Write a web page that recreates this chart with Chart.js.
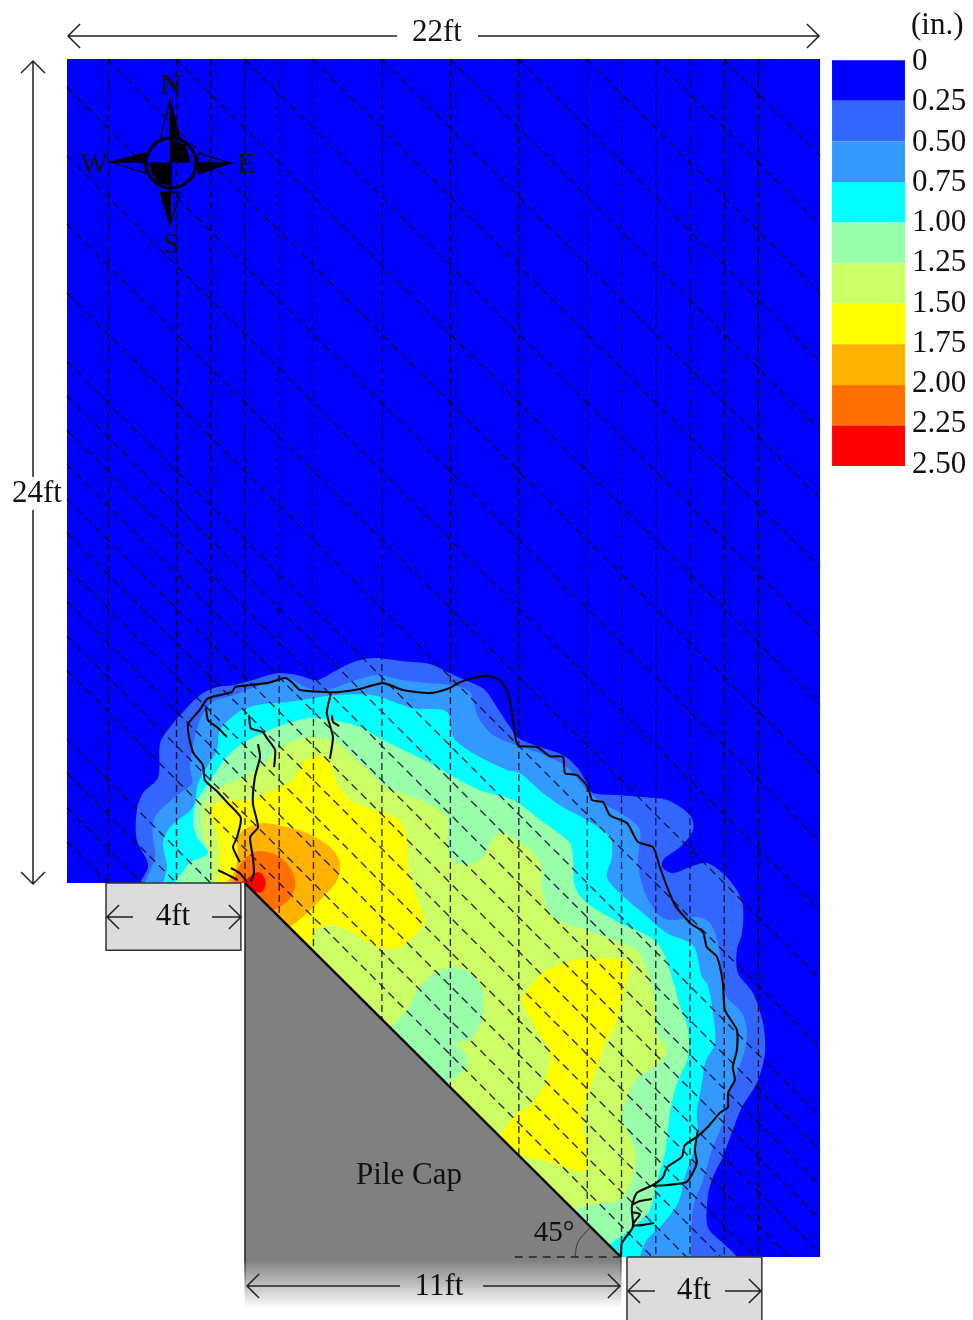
<!DOCTYPE html>
<html>
<head>
<meta charset="utf-8">
<title>Displacement contours</title>
<script src="https://cdn.jsdelivr.net/npm/chart.js@4/dist/chart.umd.min.js"></script>
<style>
  html, body { margin: 0; padding: 0; background: #fff; }
  canvas { display: block; filter: blur(0.45px); }
</style>
</head>
<body>
<canvas id="graf" width="973" height="1320"></canvas>
<script>
// all positions in feet, x from west edge of slab, y from south edge
var levelLabels = ["0", "0.25", "0.50", "0.75", "1.00", "1.25", "1.50", "1.75", "2.00", "2.25", "2.50"];
var levelColors = ["#0000ff", "#3366ff", "#3399ff", "#00ffff", "#99ffaa", "#ccff66", "#ffff00", "#ffb300", "#ff7000", "#ff0000"];

var slab = [[0, 0], [22, 0], [22, 34.93], [0, 34.93]];

// contour outlines
var band025 = [[2.13,10.9],[2.37,11.43],[2.04,12.16],[2.04,13.03],[2.22,13.53],[2.66,13.99],[2.72,14.98],[3.01,15.45],[3.39,15.89],[3.88,16.38],[4.38,16.62],[4.85,16.67],[5.43,16.82],[6.13,17.02],[6.72,16.97],[7.3,16.82],[7.77,17.05],[8.35,17.34],[8.94,17.46],[9.81,17.37],[10.6,17.29],[11.19,17.02],[11.77,16.76],[12.21,16.53],[12.56,16.03],[12.94,15.45],[13.17,15.13],[13.82,14.87],[14.49,14.63],[14.9,14.28],[15.19,13.82],[15.36,13.53],[16.07,13.47],[16.82,13.41],[17.53,13.32],[18.2,12.88],[18.29,12.45],[17.91,11.95],[17.41,11.57],[17.41,11.34],[17.7,11.19],[18.2,11.37],[18.69,11.49],[19.16,11.19],[19.57,10.7],[19.75,10.2],[19.72,9.44],[19.57,8.95],[19.6,8.28],[20.04,7.7],[20.33,6.82],[20.39,5.95],[20.15,5.07],[19.72,4.37],[19.45,3.7],[19.16,2.92],[18.87,2.33],[18.72,1.75],[18.72,0.87],[19.16,0.41],[19.57,0],[19.57,-0.38],[15.86,-0.38],[9,2],[4.9,10.5],[2.13,10.7]];
var band050 = [[2.28,10.9],[2.57,11.66],[2.51,12.24],[2.57,12.83],[3.15,13.41],[3.65,13.82],[3.59,14.28],[3.74,15.16],[3.88,15.65],[4.24,16.18],[4.85,16.38],[5.64,16.67],[6.43,16.88],[7.01,16.59],[7.59,16.53],[8.27,16.76],[9.06,16.97],[9.81,16.82],[10.6,16.73],[11.28,16.67],[11.77,16.47],[12.01,15.74],[12.44,15.22],[13.14,14.92],[13.73,14.72],[14.61,14.28],[15.19,13.61],[15.66,13.23],[16.36,12.83],[16.74,12.45],[16.68,11.57],[16.82,10.79],[17.23,10.03],[17.61,9.82],[18.4,9.91],[18.78,9.74],[19.02,9.15],[19.13,8.16],[19.28,7.58],[19.72,7.11],[19.86,6.62],[19.8,6.03],[19.57,5.36],[19.28,4.66],[19.16,3.91],[18.87,3.21],[18.55,2.16],[18.34,1.66],[18.26,1.17],[18.23,0],[18.23,-0.38],[15.86,-0.38],[9,2],[4.9,10.5],[2.28,10.7]];
var band075 = [[2.8,10.9],[2.92,11.37],[2.8,12.07],[3.01,12.53],[3.68,13.12],[3.83,13.82],[4.12,14.34],[4.38,14.78],[4.47,15.36],[4.97,15.86],[5.55,16.09],[6.43,16.18],[7.19,16.29],[7.77,16.38],[8.94,16.38],[10.11,16],[11.1,15.89],[11.28,15.16],[11.86,14.69],[12.85,14.2],[13.23,14.11],[13.9,13.53],[14.49,13.12],[15.19,12.74],[15.86,12.24],[15.92,11.66],[15.77,11.08],[16.15,10.61],[16.82,10.03],[17.53,9.44],[18.29,9.09],[18.55,8.16],[18.72,7.93],[18.87,7.11],[18.93,6.24],[18.64,5.66],[18.55,5.07],[18.4,4.2],[18.43,3.5],[18.05,2.33],[17.85,1.57],[17.32,0.87],[16.94,0.5],[16.74,0],[16.74,-0.38],[15.86,-0.38],[9,2],[4.9,10.5],[2.8,10.7]];
var band100 = [[3.15,10.9],[3.59,11.49],[4.12,11.78],[3.8,12.24],[3.68,12.74],[3.8,13.32],[4.18,13.9],[4.67,14.58],[5.14,14.98],[6.13,15.45],[7.01,15.71],[7.77,15.65],[8.56,15.45],[9.23,15.07],[10.02,14.69],[10.6,14.4],[11.19,14.05],[12.06,13.61],[13.03,13.32],[13.82,12.74],[14.69,12.07],[14.78,11.57],[14.84,10.79],[15.19,10.32],[16.15,9.74],[17.03,9.33],[17.38,8.95],[17.76,7.87],[17.85,7.49],[18.14,6.62],[18.14,5.83],[17.82,5.07],[17.61,4.2],[17.47,3.03],[17.26,2.33],[17.03,1.37],[16.53,0.87],[15.95,0.44],[15.5,0.2],[9,2],[4.9,10.5],[3.15,10.7]];
var band125 = [[4.24,10.9],[4.18,11.66],[3.94,12.45],[3.94,13.03],[4.12,13.41],[4.47,13.7],[5.14,13.99],[5.64,14.28],[5.93,14.58],[6.43,14.98],[7.19,15.16],[7.89,14.98],[8.56,14.4],[9.35,13.7],[10.31,13.32],[11.1,12.83],[11.1,11.95],[11.28,11.57],[11.68,11.43],[12.15,11.66],[12.59,12.36],[13.23,12.1],[13.82,11.49],[13.9,10.61],[14.2,9.91],[15.19,9.53],[16.21,9.15],[16.65,8.95],[16.94,8.37],[17.18,7.4],[17.23,6.53],[17.53,6.03],[17.23,5.6],[16.65,5.22],[16.36,4.66],[16.21,4.08],[16.59,3.12],[16.53,2.33],[16.15,1.66],[15.57,1.57],[14.9,1.43],[14.3,1.3],[9,2],[4.9,10.5],[4.24,10.7]];
var island100 = [[9.52,6.76],[9.93,7.2],[10.31,7.87],[10.81,8.31],[11.39,8.42],[11.86,8.22],[12.15,7.7],[12.12,6.91],[11.77,6.33],[11.33,6.24],[11.63,5.95],[11.68,5.54],[11.33,5.22],[11.13,5.07],[11.13,4.87],[10.31,4.58],[9.29,6.33]];
var band150a = [[4.38,10.9],[4.47,11.78],[4.38,12.36],[4.24,12.74],[4.24,13.12],[4.67,13.32],[5.26,13.32],[5.84,13.53],[6.6,13.9],[6.89,14.4],[7.3,14.63],[7.62,14.49],[7.89,13.82],[8.27,13.32],[8.94,13.03],[9.64,12.8],[9.93,12.24],[9.96,11.37],[10.22,10.49],[10.4,9.74],[9.73,9.04],[9.14,9.01],[8.35,9.44],[7.77,9.68],[7.39,9.62],[7.19,9.44],[7.1,9.04],[6.5,8.5],[5,9.5],[4.9,10.6],[4.38,10.7]];
var band150b = [[12.71,3.61],[13.03,4.08],[13.61,4.49],[13.96,5.07],[14.11,5.95],[13.73,6.62],[13.29,7.49],[13.44,7.78],[13.9,8.28],[14.61,8.6],[15.36,8.72],[16.39,8.57],[16.24,7.7],[16.07,6.91],[15.66,6.12],[15.48,5.54],[15.22,4.78],[15.07,3.99],[15.22,2.74],[15.07,2.48],[14.2,2.74],[13.44,2.92],[13.17,3.03],[13,2.8],[12.5,3.4]];
var band175 = [[4.62,10.9],[4.85,11.14],[4.99,11.66],[4.99,12.24],[5.29,12.53],[5.72,12.65],[6.31,12.56],[7.01,12.36],[7.68,11.95],[7.97,11.51],[7.89,10.99],[7.48,10.49],[6.95,9.97],[6.51,9.62],[6,9.3],[5,9.8],[4.9,10.6],[4.62,10.7]];
var band200 = [[4.85,10.9],[4.99,11.28],[5.11,11.51],[5.4,11.78],[5.72,11.83],[6.22,11.66],[6.6,11.19],[6.66,10.79],[6.51,10.46],[6.22,10.2],[5.99,10.11],[5.6,10],[5,10.2],[4.9,10.7]];
var band225 = [[5.29,11.05],[5.55,11.22],[5.72,11.14],[5.81,10.9],[5.7,10.64],[5.49,10.64],[5.3,10.6],[5.1,10.9]];

// cracks
var crackMain = [[5.05,11.51],[4.85,11.95],[4.97,12.24],[5.08,12.8],[4.7,13.23],[4.41,13.55],[4.03,13.9],[3.97,14.34],[3.68,14.72],[3.53,15.51],[3.88,15.95],[4.12,16.29],[4.82,16.47],[4.91,16.62],[5.84,16.73],[6.37,16.88],[6.57,16.76],[6.81,16.53],[7.62,16.47],[7.97,16.47],[8.56,16.56],[9.23,16.73],[9.81,16.53],[10.6,16.44],[11.19,16.59],[11.42,16.73],[11.86,16.88],[12.27,16.94],[12.65,16.82],[12.88,16.44],[13.03,15.65],[13.17,14.92],[13.73,14.87],[14.11,14.6],[14.49,14.58],[14.55,14.11],[14.9,14.05],[15.22,13.7],[15.34,13.32],[15.66,13.26],[15.86,12.88],[16.36,12.65],[16.68,12.1],[17.12,11.95],[17.32,11.37],[17.53,10.79],[17.76,10.26],[18.2,9.74],[18.58,9.47],[18.69,9.04],[18.99,8.75],[19.16,7.99],[19.22,7.2],[19.57,6.62],[19.57,6.03],[19.45,5.54],[19.51,5.16],[19.31,4.78],[19.31,4.37],[19.07,4.2],[18.72,3.79],[18.4,3.5],[18.05,3.26],[17.96,2.92],[17.53,2.62],[17.41,2.33],[17.12,2.1],[16.65,1.87],[16.5,1.46],[16.53,0.87],[16.21,0.41],[16.18,0]];
var crackB = [[18.43,3.7],[18.34,3.12],[18.4,2.74],[18.11,2.19],[17.53,2.1],[17.12,2.07]];
var crackC = [[16.5,1.52],[16.74,1.63],[17.09,1.69]];
var crackD = [[16.5,1.31],[16.74,1.25],[16.62,1.08],[16.53,0.93],[16.82,0.93],[17.15,0.99]];
var crackE = [[4.06,16],[4.12,15.65],[4.38,15.45],[4.67,15.16]];
var crackF = [[5.32,15.8],[5.37,15.42],[5.72,15.3],[5.84,15.13],[6.08,14.78],[6.05,14.28]];
var crackG = [[5.58,14.95],[5.64,14.58],[5.49,13.99],[5.43,13.23],[5.58,12.53],[5.35,12.24],[5.43,11.66],[5.46,11.19],[5.35,10.93]];
var crackH = [[7.71,16.44],[7.59,15.86],[7.77,15.16],[7.68,14.52]];
var crackI = [[7.74,15.8],[7.77,15.6],[7.95,15.48]];
var crackJ = [[4.41,11.28],[4.7,11.14],[4.99,10.99]];
var crackK = [[4.79,11.34],[5.05,11.19],[5.26,10.93]];

// strand lines
var strandsVertical = [1.2, 3.2, 4.2, 5.2, 6.2, 7.2, 9.2, 11.2, 13.2, 15.2, 16.2, 17.2, 18.2, 19.2, 20.2];
var strandsDiagonal = [54.1, 52.1, 50.1, 48.1, 46.1, 44.1, 42.1, 40.1, 38.1, 36.1, 34.1, 32.1, 30.1, 28.1, 26.1, 25.1, 24.1, 23.1, 22.1, 21.1, 20.1, 19.1, 18.1, 17.1, 15.1, 14.1, 13.1, 12.1];

// things around the slab
var outside = [[-3, 10.9], [5.2, 10.9], [5.2, 0], [28, 0], [28, -3], [-3, -3]];
var pileCap = [[5.2, 10.9], [16.18, 0], [16.18, -1.6], [5.2, -1.6]];
var capDiagonal = [[5.2, 10.9], [16.18, 0]];
var capLeft = [[5.2, 10.9], [5.2, -1.6]];
var capRight = [[16.18, 0], [16.18, -1.6]];
var supportWest = [[1.14, 10.9], [5.08, 10.9], [5.08, 8.94], [1.14, 8.94]];
var supportEast = [[16.36, 0], [20.3, 0], [20.3, -2.5], [16.36, -2.5]];
var angleBase = [[13.08, 0], [16.15, 0]];
var angleArc = [[14.84, 0], [14.93, 0.44], [15.28, 0.85]];

function punkty(arr) {
  return arr.map(function (p) { return { x: p[0], y: p[1] }; });
}
function uzavrit(arr) {
  return punkty(arr.concat([arr[0]]));
}

var datasets = [];
function plocha(arr, color, tension, line) {
  datasets.push({
    data: uzavrit(arr),
    showLine: true,
    fill: "shape",
    backgroundColor: color,
    borderColor: line || color,
    borderWidth: line ? 1.5 : 0,
    tension: tension,
    pointRadius: 0,
    order: -datasets.length
  });
}
function cara(arr, color, width, dash, tension) {
  datasets.push({
    data: punkty(arr),
    showLine: true,
    fill: false,
    borderColor: color,
    borderWidth: width,
    borderDash: dash || [],
    tension: tension || 0,
    pointRadius: 0,
    order: -datasets.length
  });
}

// gradient of the cap fading out at its south end
function capFade(from, done) {
  return function (c) {
    var chart = c.chart;
    if (!chart.chartArea) return from;
    var y = chart.scales.y;
    var g = chart.ctx.createLinearGradient(0, y.getPixelForValue(-0.1), 0, y.getPixelForValue(-1.5));
    g.addColorStop(0, from);
    g.addColorStop(1, done);
    return g;
  };
}

plocha(slab, levelColors[0], 0);
plocha(band025, levelColors[1], 0.3);
plocha(band050, levelColors[2], 0.3);
plocha(band075, levelColors[3], 0.3);
plocha(band100, levelColors[4], 0.3);
plocha(band125, levelColors[5], 0.3);
plocha(island100, levelColors[4], 0.3);
plocha(band150a, levelColors[6], 0.3);
plocha(band150b, levelColors[6], 0.3);
plocha(band175, levelColors[7], 0.3);
plocha(band200, levelColors[8], 0.3);
plocha(band225, levelColors[9], 0.3);

strandsVertical.forEach(function (x) {
  cara([[x, 34.93], [x, 0]], "rgba(0,0,30,0.8)", 1.4, [7, 4]);
});
strandsDiagonal.forEach(function (s) {
  var x0 = Math.max(0, s - 34.93);
  var x1 = Math.min(22, s);
  cara([[x0, s - x0], [x1, s - x1]], "rgba(0,0,30,0.8)", 1.4, [8, 5]);
});

plocha(outside, "#ffffff", 0);
plocha(pileCap, capFade("#808080", "#ffffff"), 0);
cara(capLeft, capFade("#222222", "rgba(255,255,255,0)"), 1.5);
cara(capRight, capFade("#555555", "rgba(255,255,255,0)"), 1);
cara(capDiagonal, "#000000", 2.4);
plocha(supportWest, "#dcdcdc", 0, "#333333");
plocha(supportEast, "#dcdcdc", 0, "#333333");
cara(angleBase, "#222222", 1.5, [8, 6]);
cara(angleArc, "#333333", 1, [], 0.4);

[crackMain, crackB, crackC, crackD, crackE, crackF, crackG, crackH, crackI, crackJ, crackK].forEach(function (k) {
  cara(k, "#0a0a0a", 2.1, [], 0.2);
});

// color bar
levelColors.forEach(function (col, i) {
  var top = 34.89 - i * 1.183;
  plocha([[22.35, top], [24.48, top], [24.48, top - 1.183], [22.35, top - 1.183]], col, 0);
});

function sipka(ctx, x1, y1, x2, y2) {
  var a = Math.atan2(y2 - y1, x2 - x1);
  var d = 17;
  ctx.beginPath();
  ctx.moveTo(x1, y1);
  ctx.lineTo(x2, y2);
  ctx.moveTo(x2 - d * Math.cos(a - 0.78), y2 - d * Math.sin(a - 0.78));
  ctx.lineTo(x2, y2);
  ctx.lineTo(x2 - d * Math.cos(a + 0.78), y2 - d * Math.sin(a + 0.78));
  ctx.stroke();
}

function kompas(ctx) {
  var cx = 171, cy = 163;
  function tvar(pts, vypln) {
    ctx.beginPath();
    pts.forEach(function (p, i) {
      if (i == 0) ctx.moveTo(cx + p[0], cy + p[1]);
      else ctx.lineTo(cx + p[0], cy + p[1]);
    });
    ctx.closePath();
    if (vypln) ctx.fill();
    ctx.stroke();
  }
  ctx.fillStyle = "#000";
  ctx.strokeStyle = "#000";
  ctx.lineWidth = 1.2;
  tvar([[-1, -63], [-11, -25], [-1, -25]], false);
  tvar([[-1, -63], [9, -25], [-1, -25]], true);
  tvar([[60, 0], [27, -10], [27, 0]], false);
  tvar([[60, 0], [27, 11], [27, 0]], true);
  tvar([[-1, 62], [9, 29], [-1, 29]], false);
  tvar([[-1, 62], [-11, 29], [-1, 29]], true);
  tvar([[-61, -1], [-26, 10], [-26, -1]], false);
  tvar([[-61, -1], [-26, -10], [-26, -1]], true);
  tvar([[0, -23], [14, -18], [19, -1], [0, -1]], true);
  tvar([[-22, 0], [0, 0], [0, 23], [-13, 19], [-18, 12]], true);
  ctx.lineWidth = 3;
  ctx.beginPath();
  ctx.arc(cx, cy, 25, 0, Math.PI * 2);
  ctx.stroke();
  ctx.lineWidth = 1.5;
  ctx.beginPath();
  ctx.moveTo(cx, cy - 25);
  ctx.lineTo(cx, cy + 25);
  ctx.stroke();
}

var popisky = {
  id: "popisky",
  afterDatasetsDraw: function (chart) {
    var ctx = chart.ctx;
    ctx.save();
    ctx.strokeStyle = "#222";
    ctx.lineWidth = 1.5;
    sipka(ctx, 397, 36, 68, 36);
    sipka(ctx, 478, 36, 819, 36);
    sipka(ctx, 33, 477, 33, 61);
    sipka(ctx, 33, 510, 33, 884);
    sipka(ctx, 133, 917, 107, 917);
    sipka(ctx, 212, 917, 241, 917);
    sipka(ctx, 400, 1286, 247, 1286);
    sipka(ctx, 483, 1286, 620, 1286);
    sipka(ctx, 655, 1291, 628, 1291);
    sipka(ctx, 725, 1291, 761, 1291);
    kompas(ctx);

    ctx.fillStyle = "#111";
    ctx.textBaseline = "middle";
    ctx.textAlign = "center";
    ctx.font = "31px 'Liberation Serif'";
    ctx.fillText("22ft", 437, 33);
    ctx.fillText("24ft", 37, 494);
    ctx.fillText("4ft", 173, 917);
    ctx.fillText("11ft", 439, 1287);
    ctx.fillText("4ft", 694, 1291);
    ctx.fillText("Pile Cap", 409, 1176);
    ctx.font = "29px 'Liberation Serif'";
    ctx.fillText("45°", 554, 1233);
    ctx.font = "bold 29px 'Liberation Serif'";
    ctx.fillText("N", 171, 87);
    ctx.font = "29px 'Liberation Serif'";
    ctx.fillText("W", 94, 165);
    ctx.fillText("E", 246, 165);
    ctx.fillText("S", 171, 245);

    ctx.textAlign = "left";
    ctx.font = "31px 'Liberation Serif'";
    ctx.fillText("(in.)", 911, 26);
    levelLabels.forEach(function (t, i) {
      ctx.fillText(t, 912, 62 + i * 40.25);
    });
    ctx.restore();
  }
};

var graf = document.getElementById("graf").getContext("2d");
var SF = new Chart(graf, {
  type: "scatter",
  data: { datasets: datasets },
  options: {
    responsive: false,
    animation: false,
    events: [],
    layout: { padding: 0 },
    plugins: { legend: { display: false }, tooltip: { enabled: false } },
    scales: {
      x: { type: "linear", display: false, min: -1.957, max: 26.468 },
      y: { type: "linear", display: false, min: -1.837, max: 36.647 }
    }
  },
  plugins: [popisky]
});
</script>
</body>
</html>
